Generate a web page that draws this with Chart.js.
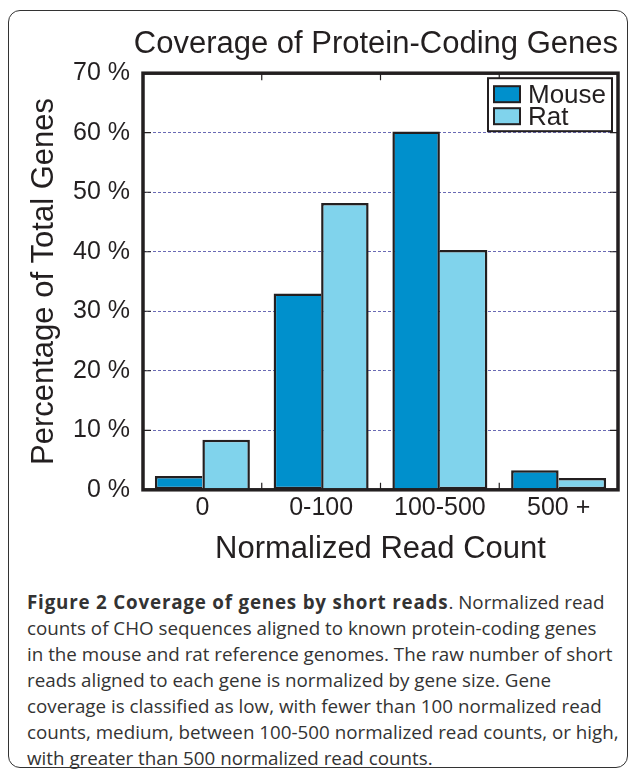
<!DOCTYPE html>
<html>
<head>
<meta charset="utf-8">
<script src="https://cdn.jsdelivr.net/npm/chart.js@4.4.1/dist/chart.umd.min.js"></script>
<style>
html, body { margin: 0; padding: 0; background: #fff; }
#frame { position: absolute; left: 8px; top: 10px; width: 618px; height: 756px; border: 1.5px solid #333; border-radius: 12px; }
#myChart { position: absolute; left: 0; top: 0; }
#caption { position: absolute; left: 27px; top: 589px; font-family: "Open Sans", sans-serif; font-size: 18.8px; line-height: 26px; color: #333; white-space: nowrap; }
#caption b { font-weight: bold; letter-spacing: 0.8px; }
</style>
</head>
<body>
<div id="frame"></div>
<canvas id="myChart" width="629" height="570"></canvas>
<div id="caption">
<b>Figure 2 Coverage of genes by short reads</b>. Normalized read<br>
counts of CHO sequences aligned to known protein-coding genes<br>
in the mouse and rat reference genomes. The raw number of short<br>
reads aligned to each gene is normalized by gene size. Gene<br>
coverage is classified as low, with fewer than 100 normalized read<br>
counts, medium, between 100-500 normalized read counts, or high,<br>
with greater than 500 normalized read counts.
</div>
<script>
var categories = ["0", "0-100", "100-500", "500 +"];
var mouseValues = [2.3, 33.0, 60.2, 3.3];
var ratValues = [8.4, 48.2, 40.3, 2.0];
var seriesNames = ["Mouse", "Rat"];
var seriesColors = ["#0090cc", "#80d3ec"];

var ink = "#231f20";
var fontFam = "'Liberation Sans', Arial, sans-serif";

// skip the border on the side facing a taller neighbour so the seam stays single
var mouseSkip = mouseValues.map(function(v, i) { return ratValues[i] >= v ? "right" : "bottom"; });
var ratSkip = ratValues.map(function(v, i) { return mouseValues[i] > v ? "left" : "bottom"; });

var framePlugin = {
  id: "frame",
  afterDatasetsDraw: function(chart) {
    var ctx = chart.ctx, a = chart.chartArea;
    var x = chart.scales.x, y = chart.scales.y;
    ctx.save();
    ctx.strokeStyle = ink;
    ctx.lineWidth = 1.2;
    ctx.beginPath();
    y.ticks.forEach(function(t) {
      if (t.value <= 0 || t.value >= 70) return;
      var py = y.getPixelForValue(t.value);
      ctx.moveTo(a.left, py); ctx.lineTo(a.left + 8, py);
      ctx.moveTo(a.right, py); ctx.lineTo(a.right - 8, py);
    });
    for (var i = 1; i < categories.length; i++) {
      var px = (x.getPixelForValue(i - 1) + x.getPixelForValue(i)) / 2;
      ctx.moveTo(px, a.bottom); ctx.lineTo(px, a.bottom - 7);
      ctx.moveTo(px, a.top); ctx.lineTo(px, a.top + 7);
    }
    ctx.stroke();
    ctx.lineWidth = 3.5;
    ctx.strokeRect(a.left, a.top, a.right - a.left, a.bottom - a.top);
    ctx.restore();
  },
  afterDraw: function(chart) {
    var ctx = chart.ctx, a = chart.chartArea;
    var bx = a.right - 130, by = a.top + 5, bw = 124, bh = 53;
    ctx.save();
    ctx.fillStyle = "#fff";
    ctx.fillRect(bx, by, bw, bh);
    ctx.strokeStyle = ink;
    ctx.lineWidth = 2;
    ctx.strokeRect(bx, by, bw, bh);
    ctx.font = "26px " + fontFam;
    ctx.textBaseline = "alphabetic";
    chart.data.datasets.forEach(function(ds, i) {
      var sy = by + 8 + i * 22;
      ctx.fillStyle = ds.backgroundColor;
      ctx.fillRect(bx + 6, sy, 26, 16);
      ctx.strokeRect(bx + 6, sy, 26, 16);
      ctx.fillStyle = ink;
      ctx.fillText(ds.label, bx + 40, sy + 17);
    });
    ctx.restore();
  }
};

var ctx = document.getElementById("myChart").getContext("2d");
var myChart = new Chart(ctx, {
  type: "bar",
  data: {
    labels: categories,
    datasets: [{
      label: seriesNames[0],
      data: mouseValues,
      backgroundColor: seriesColors[0],
      borderColor: ink,
      borderWidth: 2.5,
      borderSkipped: mouseSkip
    }, {
      label: seriesNames[1],
      data: ratValues,
      backgroundColor: seriesColors[1],
      borderColor: ink,
      borderWidth: 2.5,
      borderSkipped: ratSkip
    }]
  },
  options: {
    responsive: false,
    animation: false,
    categoryPercentage: 0.8,
    barPercentage: 1.0,
    layout: { padding: { left: 9, right: 11, top: 0, bottom: 2 } },
    plugins: {
      legend: { display: false },
      tooltip: { enabled: false },
      title: {
        display: true,
        align: "end",
        text: "Coverage of Protein-Coding Genes",
        color: ink,
        font: { family: fontFam, size: 31, weight: "normal" },
        padding: { top: 26, bottom: 10 }
      }
    },
    scales: {
      x: {
        grid: { display: false, drawTicks: false },
        border: { display: false },
        ticks: { color: ink, font: { family: fontFam, size: 25 }, padding: 3 },
        title: {
          display: true,
          text: "Normalized Read Count",
          color: ink,
          font: { family: fontFam, size: 31 },
          padding: { top: 5, bottom: 0 }
        }
      },
      y: {
        min: 0,
        max: 70,
        afterFit: function(scale) { scale.width = 134; },
        grid: {
          drawTicks: false,
          lineWidth: 1,
          color: function(c) {
            return (c.tick && (c.tick.value === 0 || c.tick.value === 70)) ? "rgba(0,0,0,0)" : "#6a6ab4";
          }
        },
        border: { display: false, dash: [3, 2] },
        ticks: {
          stepSize: 10,
          color: ink,
          padding: 13,
          font: { family: fontFam, size: 25 },
          callback: function(v) { return v + " %"; }
        },
        title: {
          display: true,
          text: "Percentage of Total Genes",
          color: ink,
          font: { family: fontFam, size: 31 },
          padding: { top: 17, bottom: 0 }
        }
      }
    }
  },
  plugins: [framePlugin]
});
</script>
</body>
</html>
